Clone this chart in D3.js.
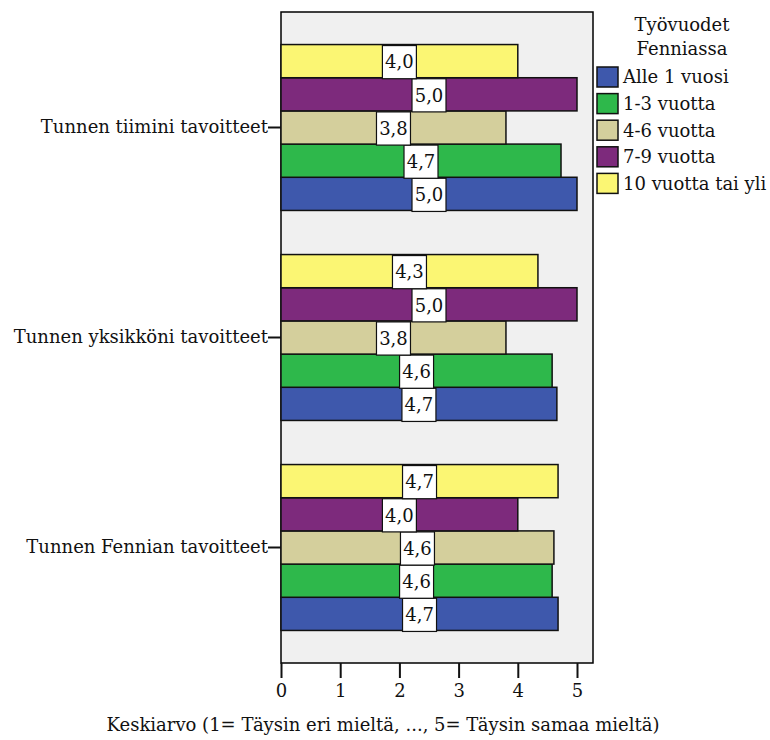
<!DOCTYPE html>
<html><head><meta charset="utf-8">
<script src="https://cdn.jsdelivr.net/npm/d3@7"></script>
<style>body{margin:0;background:#fff} svg text{font-family:"DejaVu Serif";}</style>
</head><body>
<svg id="c" width="770" height="740"></svg>
<script>
const categories = ["Tunnen tiimini tavoitteet", "Tunnen yksikköni tavoitteet", "Tunnen Fennian tavoitteet"];
const seriesNames = ["Alle 1 vuosi", "1-3 vuotta", "4-6 vuotta", "7-9 vuotta", "10 vuotta tai yli"];
const seriesColors = ["#3e58ac", "#2eb84b", "#d4cf9c", "#7d2a7c", "#fbf673"];
// values per series, in category order
const alle1 = [5.0, 4.66, 4.68];
const v1_3 = [4.73, 4.58, 4.58];
const v4_6 = [3.8, 3.8, 4.61];
const v7_9 = [5.0, 5.0, 4.0];
const v10 = [4.0, 4.34, 4.68];
const seriesValues = [alle1, v1_3, v4_6, v7_9, v10];
const xTicks = [0, 1, 2, 3, 4, 5];
const legendTitle = ["Työvuodet", "Fenniassa"];
const xTitle = "Keskiarvo (1= Täysin eri mieltä, ..., 5= Täysin samaa mieltä)";

const svg = d3.select("#c");
const L = 281, R = 593, T = 12, B = 663;
const FS = 18;

const x = d3.scaleLinear().domain([0, 5]).range([L, L + 5 * 59.2]);
const y = d3.scaleBand().domain(categories).range([T, B]).paddingInner(0.21).paddingOuter(0.155);
const order = [4, 3, 2, 1, 0];
const yi = d3.scaleBand().domain(order).range([0, y.bandwidth()]);

svg.append("rect").attr("x", L).attr("y", T).attr("width", R - L).attr("height", B - T)
  .attr("fill", "#f0f0f0").attr("stroke", "#000").attr("stroke-width", 1.5);

const data = [];
categories.forEach((c, ci) => seriesNames.forEach((s, si) => data.push({c, si, v: seriesValues[si][ci]})));

const g = svg.append("g");
g.selectAll("rect.bar").data(data).join("rect").attr("class", "bar")
  .attr("x", x(0)).attr("y", d => y(d.c) + yi(d.si))
  .attr("width", d => x(d.v) - x(0)).attr("height", yi.bandwidth())
  .attr("fill", d => seriesColors[d.si]).attr("stroke", "#111").attr("stroke-width", 1.5);

const fmt = v => d3.format(".1f")(v).replace(".", ",");
const lab = g.selectAll("g.lab").data(data).join("g").attr("class", "lab")
  .attr("transform", d => `translate(${x(d.v / 2)},${y(d.c) + yi(d.si) + yi.bandwidth() / 2 + 1})`);
lab.append("rect").attr("x", -17).attr("y", -yi.bandwidth() / 2).attr("width", 34).attr("height", yi.bandwidth())
  .attr("fill", "#fff").attr("stroke", "#111").attr("stroke-width", 1.2);
lab.append("text").attr("text-anchor", "middle").attr("dy", "0.35em")
  .attr("font-size", FS).attr("fill", "#111").text(d => fmt(d.v));

const xa = svg.append("g").attr("transform", `translate(0,${B})`)
  .call(d3.axisBottom(x).tickValues(xTicks).tickSize(15).tickPadding(6).tickFormat(d3.format("d")));
xa.select(".domain").remove();
xa.attr("font-family", null);
xa.selectAll("line").attr("stroke", "#111").attr("stroke-width", 2);
xa.selectAll("text").attr("font-size", FS).attr("fill", "#111");

const ya = svg.append("g").attr("transform", `translate(${L},0)`)
  .call(d3.axisLeft(y).tickSize(13).tickPadding(0));
ya.select(".domain").remove();
ya.attr("font-family", null);
ya.selectAll("line").attr("stroke", "#111").attr("stroke-width", 2);
ya.selectAll("text").attr("font-size", FS).attr("fill", "#111").attr("dy", "0.3em");

svg.append("text").attr("x", 383).attr("y", 731).attr("text-anchor", "middle")
  .attr("font-size", FS).attr("fill", "#111").text(xTitle);

const lg = svg.append("g");
lg.selectAll("text.t").data(legendTitle).join("text").attr("class", "t")
  .attr("x", 682).attr("y", (d, i) => 31 + i * 24).attr("text-anchor", "middle")
  .attr("font-size", FS).attr("fill", "#111").text(d => d);
const li = lg.selectAll("g.it").data(seriesNames).join("g").attr("class", "it")
  .attr("transform", (d, i) => `translate(597,${67 + i * 26.6})`);
li.append("rect").attr("width", 21).attr("height", 20)
  .attr("fill", (d, i) => seriesColors[i]).attr("stroke", "#111").attr("stroke-width", 1.5);
li.append("text").attr("x", 26).attr("y", 10).attr("dy", "0.35em")
  .attr("font-size", FS).attr("fill", "#111").text(d => d);
</script>
</body></html>
